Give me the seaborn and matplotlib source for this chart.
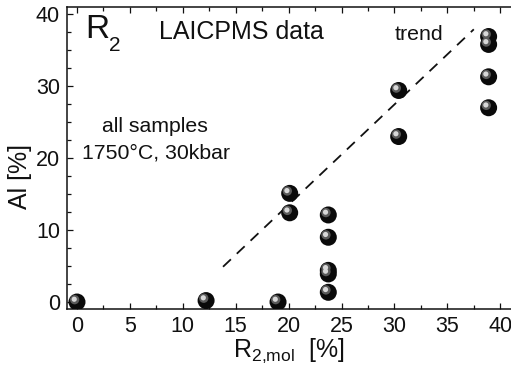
import matplotlib
matplotlib.use("Agg")
import matplotlib.pyplot as plt
import matplotlib.transforms as mtransforms
from matplotlib.ticker import MultipleLocator
import seaborn as sns
import pandas as pd

# ---- data ----
r2_mol = [0.0, 12.2, 19.0, 20.1, 20.1, 23.75, 23.75, 23.75, 23.75, 23.75,
          30.4, 30.4, 38.9, 38.9, 38.9, 38.9]
al_pct = [0.0, 0.2, 0.0, 15.1, 12.4, 12.1, 9.0, 4.4, 3.9, 1.35,
          29.4, 23.0, 36.9, 35.8, 31.3, 27.0]
trend_x = [13.8, 37.5]
trend_y = [4.9, 37.9]

df = pd.DataFrame({"r2": r2_mol, "al": al_pct})
tr = pd.DataFrame({"x": trend_x, "y": trend_y})

sns.set_style("ticks")
plt.rcParams["font.family"] = ["Liberation Sans", "DejaVu Sans"]
plt.rcParams["mathtext.fontset"] = "custom"
plt.rcParams["mathtext.rm"] = "Liberation Sans"
plt.rcParams["mathtext.it"] = "Liberation Sans"

fig = plt.figure(figsize=(5.11, 3.69), dpi=100)
ax = fig.add_axes([0.1311, 0.1626, 0.869, 0.8184])

# trend line
sns.lineplot(data=tr, x="x", y="y", ax=ax, color="#111111", lw=1.3,
             dashes=False, legend=False)
ax.lines[-1].set_dashes((6, 4.5))

# spheres: dark body + highlights
sns.scatterplot(data=df, x="r2", y="al", ax=ax, s=150, color="#0a0a0a",
                edgecolor="none", legend=False, zorder=3)
off1 = mtransforms.offset_copy(ax.transData, fig=fig, x=-1.7, y=1.7, units="points")
ax.scatter(df["r2"], df["al"], s=45, color="#5a5a5a", edgecolor="none",
           transform=off1, zorder=4)
off2 = mtransforms.offset_copy(ax.transData, fig=fig, x=-2.0, y=2.0, units="points")
ax.scatter(df["r2"], df["al"], s=14, color="#d8d8d8", edgecolor="none",
           transform=off2, zorder=5)

ax.set_xlim(-0.945, 41.02)
ax.set_ylim(-0.97, 41.0)
ax.xaxis.set_major_locator(MultipleLocator(5))
ax.xaxis.set_minor_locator(MultipleLocator(2.5))
ax.yaxis.set_major_locator(MultipleLocator(10))
ax.yaxis.set_minor_locator(MultipleLocator(2.5))

for s in ["left", "bottom", "top"]:
    ax.spines[s].set_linewidth(1.1)
    ax.spines[s].set_color("#111111")
ax.spines["right"].set_visible(False)

ax.tick_params(which="both", direction="in", top=True, right=False,
               color="#111111", width=0.9)
ax.tick_params(which="major", length=4)
ax.tick_params(which="minor", length=3)
ax.tick_params(axis="x", which="major", labelsize=15.5, pad=5, labelcolor="#111111")
ax.tick_params(axis="y", which="major", labelsize=15.5, pad=5, labelcolor="#111111")

ax.set_xlabel(r"R$_{\mathrm{2{,}mol}}$  [%]", fontsize=18, labelpad=0, color="#111111")
ax.set_ylabel("Al [%]", fontsize=18, color="#111111")
ax.yaxis.set_label_coords(-0.079, 0.44)

ax.text(0.75, 36.7, "R", fontsize=24, ha="left", va="baseline", color="#111111")
ax.text(3.0, 34.9, "2", fontsize=15, ha="left", va="baseline", color="#111111")
ax.text(15.5, 36.6, "LAICPMS data", fontsize=18, ha="center", va="baseline", color="#111111")
ax.text(32.3, 36.4, "trend", fontsize=15.3, ha="center", va="baseline", color="#111111")
ax.text(7.4, 23.65, "all samples", fontsize=15.3, ha="center", va="baseline", color="#111111")
ax.text(7.45, 20.0, "1750°C, 30kbar", fontsize=15.3, ha="center", va="baseline", color="#111111")

fig.savefig("out.png", dpi=100)
